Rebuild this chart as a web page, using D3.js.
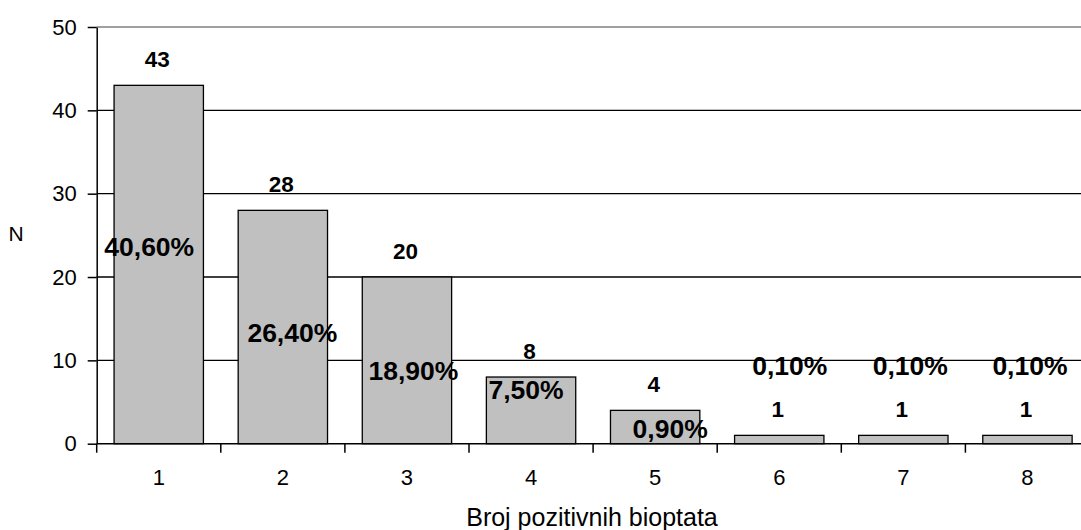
<!DOCTYPE html>
<html>
<head>
<meta charset="utf-8">
<script src="https://cdn.jsdelivr.net/npm/d3@7"></script>
<style>
  body { margin: 0; background: #fff; }
  svg text { font-family: Arial, "Liberation Sans", sans-serif; fill: #000; }
</style>
</head>
<body>
<div id="chart"></div>
<script>
// Data
var categories = ["1", "2", "3", "4", "5", "6", "7", "8"];
var counts = [43, 28, 20, 8, 4, 1, 1, 1];
var percentLabels = ["40,60%", "26,40%", "18,90%", "7,50%", "0,90%", "0,10%", "0,10%", "0,10%"];
var yTicks = [0, 10, 20, 30, 40, 50];

// Where the percent labels were dragged to (dx from bar centre in px, baseline in N units)
var pctPlacement = [
  { dx: -9.5, at: 22.5 },
  { dx: 9.5, at: 12.2 },
  { dx: 6.5, at: 7.6 },
  { dx: -5, at: 5.35 },
  { dx: 15, at: 0.65 },
  { dx: 10.5, at: 8.25 },
  { dx: 7, at: 8.25 },
  { dx: 2.5, at: 8.25 }
];

var svgWidth = 1081;
var svgHeight = 530;

var svg = d3.select("#chart")
  .append("svg")
  .attr("width", svgWidth)
  .attr("height", svgHeight);

// scales
var x = d3.scaleBand()
  .domain(categories)
  .range([96.7, 1089.5])
  .paddingInner(0.28)
  .paddingOuter(0.14);

var y = d3.scaleLinear()
  .domain([0, 50])
  .range([443.7, 27]);

var step = x.step();
var xLeft = x.range()[0];

// gridlines (top one is the grey plot border)
svg.append("g")
  .selectAll("line")
  .data(yTicks.filter(d => d > 0))
  .enter()
  .append("line")
  .attr("x1", xLeft)
  .attr("x2", svgWidth)
  .attr("y1", d => y(d))
  .attr("y2", d => y(d))
  .attr("stroke", d => d === 50 ? "#808080" : "#000")
  .attr("stroke-width", 1.3);

// bars
svg.append("g")
  .selectAll("rect")
  .data(counts)
  .enter()
  .append("rect")
  .attr("x", (d, i) => x(categories[i]))
  .attr("y", d => y(d))
  .attr("width", x.bandwidth())
  .attr("height", d => y(0) - y(d))
  .attr("fill", "#c0c0c0")
  .attr("stroke", "#000")
  .attr("stroke-width", 1.3);

// y axis
var leftAxis = d3.axisLeft(y)
  .tickValues(yTicks)
  .tickSize(9)
  .tickSizeOuter(0)
  .tickPadding(11);

var yAxis = svg.append("g")
  .attr("transform", `translate(${xLeft}, 0)`)
  .call(leftAxis);
yAxis.selectAll("text").style("font-size", "22px");
yAxis.selectAll("line").attr("stroke", "#000").attr("stroke-width", 1.5);
yAxis.select(".domain").attr("stroke", "#000").attr("stroke-width", 1.5);

// x axis line + boundary ticks
svg.append("line")
  .attr("x1", xLeft)
  .attr("x2", svgWidth)
  .attr("y1", y(0))
  .attr("y2", y(0))
  .attr("stroke", "#000")
  .attr("stroke-width", 1.5);

svg.append("g")
  .selectAll("line")
  .data(d3.range(categories.length + 1))
  .enter()
  .append("line")
  .attr("x1", i => xLeft + i * step)
  .attr("x2", i => xLeft + i * step)
  .attr("y1", y(0))
  .attr("y2", y(0) + 9)
  .attr("stroke", "#000")
  .attr("stroke-width", 1.5);

var bottomAxis = d3.axisBottom(x)
  .tickSize(0)
  .tickPadding(26);

var xAxis = svg.append("g")
  .attr("transform", `translate(0, ${y(0)})`)
  .call(bottomAxis);
xAxis.select(".domain").remove();
xAxis.selectAll("text").style("font-size", "22px");

// value labels above bars
svg.append("g")
  .selectAll("text")
  .data(counts)
  .enter()
  .append("text")
  .attr("x", (d, i) => x(categories[i]) + x.bandwidth() / 2 - 1.5)
  .attr("y", d => y(d) - 18)
  .attr("text-anchor", "middle")
  .style("font-size", "22.5px")
  .style("font-weight", "bold")
  .text(d => d);

// percent labels
svg.append("g")
  .selectAll("text")
  .data(percentLabels)
  .enter()
  .append("text")
  .attr("x", (d, i) => x(categories[i]) + x.bandwidth() / 2 + pctPlacement[i].dx)
  .attr("y", (d, i) => y(pctPlacement[i].at))
  .attr("text-anchor", "middle")
  .style("font-size", "26.5px")
  .style("font-weight", "bold")
  .text(d => d);

// axis titles
svg.append("text")
  .attr("x", 592)
  .attr("y", 526)
  .attr("text-anchor", "middle")
  .style("font-size", "25px")
  .text("Broj pozitivnih bioptata");

svg.append("text")
  .attr("x", 16)
  .attr("y", 241)
  .attr("text-anchor", "middle")
  .style("font-size", "21px")
  .text("N");
</script>
</body>
</html>
